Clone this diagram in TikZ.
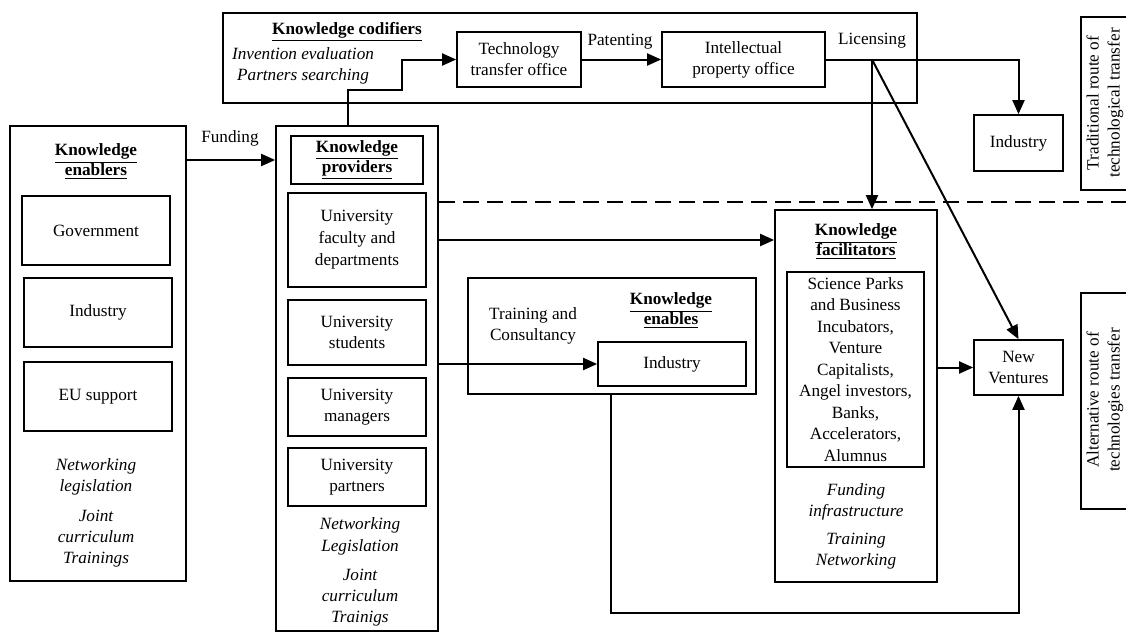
\documentclass[tikz,border=0pt]{standalone}
\usepackage{fontspec}
\setmainfont{Liberation Serif}
\usetikzlibrary{arrows.meta,fit}
\begin{document}
\begin{tikzpicture}[x=0.5pt,y=-0.5pt,
 font=\fontsize{8.6}{10.5}\selectfont,
 box/.style={draw,line width=0.85pt,inner sep=0pt},
 lbl/.style={align=center,inner sep=0pt},
 hd/.style={align=center,inner sep=0pt,font=\fontsize{8.6}{10}\selectfont\bfseries},
 it/.style={align=center,inner sep=0pt,font=\fontsize{8.6}{10.5}\selectfont\itshape},
 conn/.style={line width=1pt},
 arr/.style={conn,-{Triangle[length=7pt,width=6pt]}},
 dashline/.style={line width=1pt,dash pattern=on 8pt off 4pt}]
\useasboundingbox (0,0) rectangle (1126,632);

% Knowledge codifiers
\node[box,fit={(223,13)(917,103)}] (cod) {};
\node[hd] (codh) at (347,32) {\underline{Knowledge codifiers}};
\node[it] (codi) at (303,65.5) {Invention evaluation\\Partners searching};
\node[box,fit={(457,32)(581,87)}] (tto) {};
\node[lbl] (ttot) at (tto.center) {Technology\\transfer office};
\node[box,fit={(662,32)(825,87)}] (ipo) {};
\node[lbl] (ipot) at (ipo.center) {Intellectual\\property office};
\node[lbl] (pat) at (620,42) {Patenting};
\node[lbl] (lic) at (872,41) {Licensing};
\node[box,fit={(974,115)(1063,171)}] (ind1) {};
\node[lbl] (ind1t) at (ind1.center) {Industry};

% side labels
\draw[line width=0.85pt] (1126,17) -- (1081,17) -- (1081,190) -- (1126,190);
\node[lbl,rotate=90] (trad) at (1105,103) {Traditional route of\\technological transfer};
\draw[line width=0.85pt] (1126,293) -- (1081,293) -- (1081,509) -- (1126,509);
\node[lbl,rotate=90] (alt) at (1105,400) {Alternative route of\\technologies transfer};

% Knowledge enablers
\node[box,fit={(10,126)(186,581)}] (enb) {};
\node[hd] (enbh) at (96,162) {\underline{Knowledge}\\\underline{enablers}};
\node[box,fit={(22,196)(170,265)}] (gov) {};
\node[lbl] (govt) at (gov.center) {Government};
\node[box,fit={(24,278)(172,347)}] (ind2) {};
\node[lbl] (ind2t) at (ind2.center) {Industry};
\node[box,fit={(24,362)(172,431)}] (eu) {};
\node[lbl] (eut) at (eu.center) {EU support};
\node[it] (enbi1) at (96,476.5) {Networking\\legislation};
\node[it] (enbi2) at (96,539) {Joint\\curriculum\\Trainings};

% Knowledge providers
\node[box,fit={(276,126)(438,631)}] (prov) {};
\node[box,fit={(291,136)(423,184)}] (provh) {};
\node[hd] (provht) at (provh.center) {\underline{Knowledge}\\\underline{providers}};
\node[box,fit={(288,193)(426,287)}] (fac) {};
\node[lbl,font=\fontsize{8.6}{11}\selectfont] (fact) at (fac.center) {University\\faculty and\\departments};
\node[box,fit={(288,300)(426,365)}] (stu) {};
\node[lbl] (stut) at (stu.center) {University\\students};
\node[box,fit={(288,378)(426,436)}] (man) {};
\node[lbl] (mant) at (man.center) {University\\managers};
\node[box,fit={(288,448)(426,506)}] (par) {};
\node[lbl] (part) at (par.center) {University\\partners};
\node[it,font=\fontsize{8.6}{11}\selectfont\itshape] (provi1) at (360,536) {Networking\\Legislation};
\node[it] (provi2) at (360,598) {Joint\\curriculum\\Trainigs};

% Knowledge enables
\node[box,fit={(468,278)(756,394)}] (enab) {};
\node[hd] (enabh) at (671,311) {\underline{Knowledge}\\\underline{enables}};
\node[lbl] (tc) at (533,325.5) {Training and\\Consultancy};
\node[box,fit={(598,342)(746,386)}] (ind3) {};
\node[lbl] (ind3t) at (ind3.center) {Industry};

% Knowledge facilitators
\node[box,fit={(775,210)(937,582)}] (facil) {};
\node[hd] (facilh) at (856,242) {\underline{Knowledge}\\\underline{facilitators}};
\node[box,fit={(787,272)(924,467)}] (facin) {};
\node[lbl,font=\fontsize{8.6}{10.75}\selectfont] (facint) at (facin.center) {Science Parks\\and Business\\Incubators,\\Venture\\Capitalists,\\Angel investors,\\Banks,\\Accelerators,\\Alumnus};
\node[it] (faci1) at (856,502) {Funding\\infrastructure};
\node[it] (faci2) at (856,551.5) {Training\\Networking};
\node[box,fit={(974,340)(1063,395)}] (nv) {};
\node[lbl] (nvt) at (nv.center) {New\\Ventures};

% helper coordinates
\coordinate (fy) at (0,160);
\coordinate (k1) at (348,90);
\coordinate (k2) at (402,60);
\coordinate (lp) at (872,59.5);
\coordinate (dy) at (0,202);
\coordinate (dend) at (1126,202);
\coordinate (b1) at (611,613);

% connectors
\node[lbl] (fund) at (230,138) {Funding};
\draw[arr] (enb.east |- fy) -- (prov.west |- fy);
\draw[arr] (prov.north -| k1) -- (k1) -| (k2 |- tto.west) -- (tto.west);
\draw[arr] (tto) -- (ipo);
\draw[arr] (ipo.east) -| (ind1.north);
\draw[dashline] (prov.east |- dy) -- (dend);
\draw[arr] (lp) -- (lp |- facil.north);
\draw[arr] (lp) -- (nv.north);
\draw[arr] (prov.east |- fac) -- (facil.west |- fac);
\draw[arr] (prov.east |- ind3) -- (ind3.west);
\draw[arr] (enab.south -| b1) -- (b1) -| (nv.south);
\draw[arr] (facil.east |- nv) -- (nv.west);
\end{tikzpicture}
\end{document}
